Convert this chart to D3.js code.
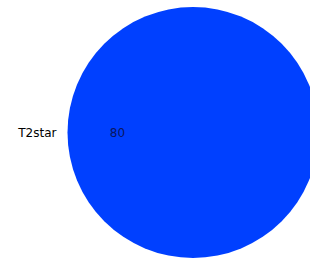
<!DOCTYPE html>
<html><head><meta charset="utf-8">
<script src="https://cdn.jsdelivr.net/npm/d3@7"></script>
<style>html,body{margin:0;padding:0;background:#fff;overflow:hidden}</style>
</head><body>
<svg id="c" width="310" height="260"></svg>
<script>
const setNames = ["T2star"];
const setSizes = [80];
const setColors = ["#0040ff"];

const svg = d3.select("#c");
const r = d3.scaleSqrt().domain([0, d3.max(setSizes)]).range([0, 125.5]);
const cx = d3.scaleOrdinal().domain(setNames).range([193]);
const cy = 132.5;

svg.selectAll("circle.set").data(setNames).join("circle")
  .attr("class","set")
  .attr("cx", d => cx(d)).attr("cy", cy)
  .attr("r", (d,i) => r(setSizes[i]))
  .attr("fill", (d,i) => setColors[i]);

svg.selectAll("text.name").data(setNames).join("text")
  .attr("class","name")
  .attr("x", (d,i) => cx(d) - r(setSizes[i]) - 11)
  .attr("y", cy).attr("dy","0.35em")
  .attr("text-anchor","end")
  .attr("font-family","DejaVu Sans").attr("font-size","12px")
  .attr("fill","#000").text(d => d);

svg.selectAll("text.val").data(setSizes).join("text")
  .attr("class","val")
  .attr("x", (d,i) => cx(setNames[i]) - r(d) + 50)
  .attr("y", cy).attr("dy","0.35em")
  .attr("text-anchor","middle")
  .attr("font-family","DejaVu Sans").attr("font-size","12px")
  .attr("fill","#0a1660").text(d => d);
</script>
</body></html>
